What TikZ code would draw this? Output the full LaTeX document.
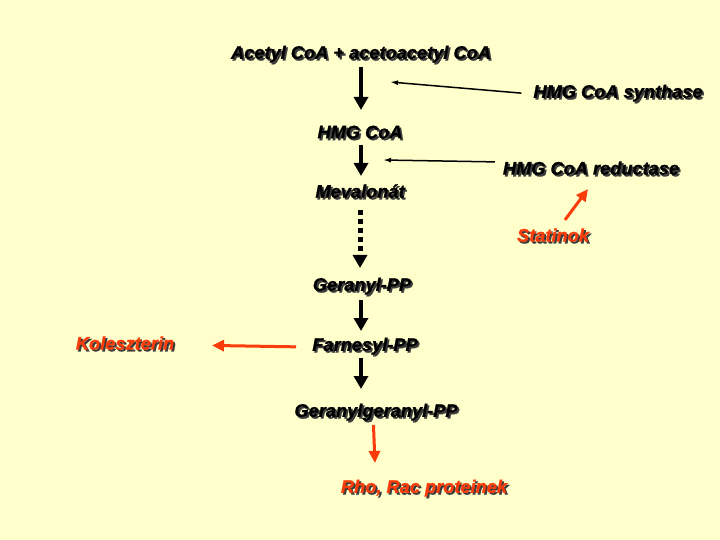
\documentclass[tikz,border=0pt]{standalone}
\usepackage{fontspec}
\setmainfont{Liberation Sans}[BoldItalicFeatures={FakeBold=1}]
\usepackage{xcolor}
\definecolor{background}{RGB}{255,255,204}
\definecolor{redarrow}{RGB}{250,60,10}
\definecolor{shadowgray}{RGB}{60,60,60}
\usepackage{tikz}
\usetikzlibrary{positioning}
\usetikzlibrary{arrows.meta}
\usetikzlibrary{calc}
\newcommand{\shd}[1]{\rlap{\kern1.8bp\raisebox{-1.8bp}{\color{shadowgray}#1}}#1}

\begin{document}
\begin{tikzpicture}[x=1bp,y=-1bp,every node/.style={inner sep=2bp,outer sep=0,font=\fontsize{18.3}{21}\selectfont\bfseries\itshape},
	red/.style={text=redarrow},
	main/.style={line width=4bp,-{Triangle[width=14bp,length=13bp]}},
	dots/.style={line width=5bp,dash pattern=on 5bp off 4bp,-{Triangle[width=14bp,length=13bp]}},
	thin/.style={line width=1.5bp,-{Latex[length=8bp,width=5bp]}},
	redarr/.style={draw=redarrow,line width=3bp,-{Triangle[width=11bp,length=12bp]}}]
	\fill[background] (0,0) rectangle (720,540);
	\useasboundingbox (0,0) rectangle (720,540);
	% pathway
	\node (acetyl) at (361,55) {\shd{Acetyl CoA + acetoacetyl CoA}};
	\node (hmg) at (360,133) {\shd{HMG CoA}};
	\node (meva) at (360,192) {\shd{Mevalonát}};
	\node (geranyl) at (362,287) {\shd{Geranyl-PP}};
	\node (farnesyl) at (365,347) {\shd{Farnesyl-PP}};
	\node (gg) at (376,413) {\shd{Geranylgeranyl-PP}};
	% enzymes, products
	\node (synth) at (618,94) {\shd{HMG CoA synthase}};
	\node (reduct) at (591,169) {\shd{HMG CoA reductase}};
	\node[red] (stat) at (553,236) {\shd{Statinok}};
	\node[red] (kol) at (125,344) {\shd{Koleszterin}};
	\node[red] (rho) at (424,489) {\shd{Rho, Rac proteinek}};
	\coordinate (synthtip) at (390,82);
	\coordinate (reducttip) at (383,160);
	\coordinate (stattip) at (588,189);
	% arrows
	\draw[main,shorten <=12bp,shorten >=23bp] (acetyl.center) -- (acetyl.center |- hmg.center);
	\draw[main,shorten <=12bp,shorten >=16bp] (acetyl.center |- hmg.center) -- (acetyl.center |- meva.center);
	\draw[dots,shorten <=18bp,shorten >=19bp] (meva.center) -- (meva.center |- geranyl.center);
	\draw[main,shorten <=13bp,shorten >=16bp] (acetyl.center |- geranyl.center) -- (acetyl.center |- farnesyl.center);
	\draw[main,shorten <=11bp,shorten >=24bp] (acetyl.center |- farnesyl.center) -- (acetyl.center |- gg.center);
	\draw[thin,shorten <=10bp] ([yshift=0bp]synth.west) -- (synthtip);
	\draw[thin,shorten <=6bp] ([yshift=7bp]reduct.west) -- (reducttip);
	\draw[redarr,shorten <=20bp] (stat.center) -- (stattip);
	\draw[redarr,shorten <=69bp,shorten >=87bp] ([yshift=-1bp]farnesyl.center) -- (kol.center);
	\draw[redarr,shorten <=12bp,shorten >=26bp] ([xshift=-3bp]gg.center) -- ([xshift=-48bp]rho.center);
\end{tikzpicture}
\end{document}
